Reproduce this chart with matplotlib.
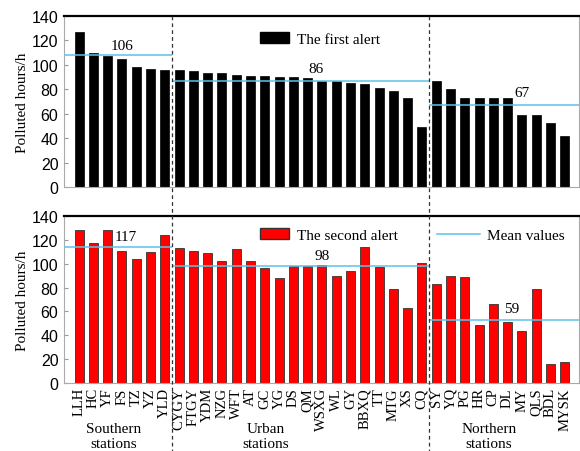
import matplotlib
matplotlib.use("Agg")
import matplotlib.pyplot as plt
from matplotlib.lines import Line2D
from matplotlib.patches import Patch
from matplotlib.transforms import blended_transform_factory

stations = ["LLH", "HC", "YF", "FS", "TZ", "YZ", "YLD",
            "CYGY", "FTGY", "YDM", "NZG", "WFT", "AT", "GC", "YG", "DS", "QM",
            "WSXG", "WL", "GY", "BBXQ", "TT", "MTG", "XS", "CQ",
            "SY", "YQ", "PG", "HR", "CP", "DL", "MY", "QLS", "BDL", "MYSK"]
groups = ["Southern\nstations", "Urban\nstations", "Northern\nstations"]
group_sizes = [7, 18, 10]

first_alert = [127, 110, 107, 105, 98, 97, 96,
               96, 95, 93, 93, 92, 91, 91, 90, 90, 89, 87, 87, 85, 84, 81, 79, 73, 49,
               87, 80, 73, 73, 73, 73, 59, 59, 52, 42]
second_alert = [128, 117, 128, 111, 104, 110, 124,
                113, 111, 109, 102, 112, 102, 96, 88, 98, 98, 99, 90, 94, 114, 97, 79, 63, 101,
                83, 90, 89, 49, 66, 51, 44, 79, 16, 18]

first_mean_lines = [108, 87, 67]
first_mean_labels = ["106", "86", "67"]
second_mean_lines = [114, 98, 53]
second_mean_labels = ["117", "98", "59"]

serif = ["Liberation Serif", "DejaVu Serif"]
sans = ["Liberation Sans", "DejaVu Sans"]

W, H = 580, 452
fig = plt.figure(figsize=(W / 100, H / 100), dpi=100)

def box(l, t, r, b):
    return [l / W, 1 - b / H, (r - l) / W, (b - t) / H]

ax1 = fig.add_axes(box(64, 17, 579, 188))
ax2 = fig.add_axes(box(64, 217, 579, 384))

x = list(range(len(stations)))
ax1.bar(x, first_alert, width=0.63, color="black", edgecolor="black", linewidth=0.5, zorder=2)
ax2.bar(x, second_alert, width=0.63, color="#ff0000", edgecolor="#333333", linewidth=0.6, zorder=2)

bounds = [-1.05]
acc = 0
for s in group_sizes:
    acc += s
    bounds.append(acc - 0.5)
bounds[-1] = 35.0
mean_col = "#5bc4ea"

first_label_pos = [(3.0, 110.5), (16.6, 91.5), (31.0, 72)]
second_label_pos = [(3.3, 117.5), (17.0, 101.5), (30.3, 57)]

for ax, lines, labels, lpos in [(ax1, first_mean_lines, first_mean_labels, first_label_pos),
                                (ax2, second_mean_lines, second_mean_labels, second_label_pos)]:
    for i in range(3):
        ax.hlines(lines[i], bounds[i], bounds[i + 1], color=mean_col, linewidth=1.1, zorder=3)
        ax.text(lpos[i][0], lpos[i][1], labels[i], fontsize=11, family=serif,
                ha="center", va="bottom", zorder=4)
    ax.set_xlim(-1.05, 35.0)
    ax.set_ylim(0, 140)
    ax.set_yticks(range(0, 141, 20))
    ax.set_ylabel("Polluted hours/h", family=serif, fontsize=11, labelpad=2)
    for lab in ax.get_yticklabels():
        lab.set_family(sans)
        lab.set_fontsize(11.5)
    ax.tick_params(axis="y", direction="in", length=3, color="#999999", pad=4)
    for sp in ["left", "right", "bottom"]:
        ax.spines[sp].set_color("#aaaaaa")
        ax.spines[sp].set_linewidth(0.8)
    ax.spines["top"].set_color("black")
    ax.spines["top"].set_linewidth(1.6)

ax1.set_xticks(x)
ax1.set_xticklabels([])
ax1.tick_params(axis="x", length=0)
ax2.set_xticks(x)
ax2.set_xticklabels(stations, rotation=90, family=serif, fontsize=10.5)
ax2.tick_params(axis="x", direction="in", length=2, color="#999999", pad=3)

# legends
leg1 = ax1.legend(handles=[Patch(facecolor="black", edgecolor="black")], labels=["The first alert"],
                  loc="center left", bbox_to_anchor=(0.38, 0.865), frameon=False,
                  prop={"family": serif, "size": 11}, borderpad=0, borderaxespad=0,
                  handlelength=1.9, handleheight=0.75, handletextpad=0.55)
leg2 = ax2.legend(handles=[Patch(facecolor="#ff0000", edgecolor="#333333")], labels=["The second alert"],
                  loc="center left", bbox_to_anchor=(0.38, 0.885), frameon=False,
                  prop={"family": serif, "size": 11}, borderpad=0, borderaxespad=0,
                  handlelength=1.9, handleheight=0.75, handletextpad=0.55)
ax2.add_artist(leg2)
ax2.legend(handles=[Line2D([0], [0], color=mean_col, linewidth=1.1)], labels=["Mean values"],
           loc="center left", bbox_to_anchor=(0.724, 0.885), frameon=False,
           prop={"family": serif, "size": 11}, borderpad=0, borderaxespad=0,
           handlelength=2.8, handletextpad=0.5)

# group separators spanning both panels
tr = blended_transform_factory(ax2.transData, fig.transFigure)
for b in bounds[1:3]:
    fig.add_artist(Line2D([b, b], [1 - 17 / H, 1 - 452 / H], transform=tr, color="#333333",
                          linewidth=0.9, linestyle=(0, (3, 2.5))))

group_centers = [2.45, 13.1, 28.7]
for gc, g in zip(group_centers, groups):
    fig.text(gc, 1 - 437 / H, g, transform=tr,
             ha="center", va="center", family=serif, fontsize=11, linespacing=1.25)

fig.savefig("out.png", dpi=100)
